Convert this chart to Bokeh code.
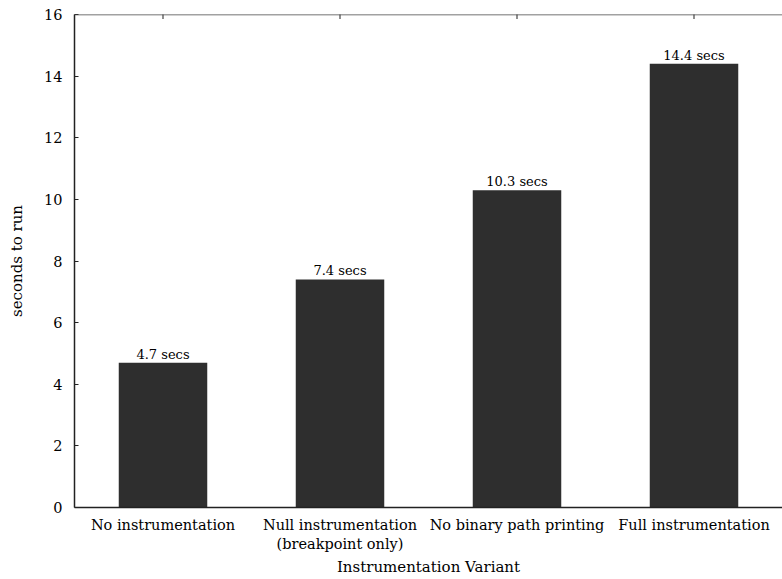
import math
from bokeh.plotting import figure
from bokeh.models import ColumnDataSource, FactorRange, Range1d, FixedTicker, Span
from bokeh.core.properties import value
from bokeh.embed import file_html
from bokeh.resources import INLINE

categories = ["No instrumentation", "Null instrumentation\n(breakpoint only)",
              "No binary path printing", "Full instrumentation"]
seconds = [4.7, 7.4, 10.3, 14.4]
bar_labels = ["4.7 secs", "7.4 secs", "10.3 secs", "14.4 secs"]
y_ticks = [0, 2, 4, 6, 8, 10, 12, 14, 16]
y_max = 16

FONT = "DejaVu Serif"

src = ColumnDataSource(dict(cat=categories, val=seconds, lab=bar_labels))
top_src = ColumnDataSource(dict(cat=categories, y=[y_max] * len(categories)))

p = figure(frame_width=708, frame_height=493, output_backend="svg", toolbar_location=None,
           x_range=FactorRange(factors=categories, start=0, end=3.98),
           y_range=Range1d(0, y_max),
           min_border_left=74, min_border_right=0, min_border_top=14, min_border_bottom=68)

p.vbar(x="cat", top="val", width=0.5, source=src, fill_color="#2e2e2e", line_color=None)
p.text(x="cat", y="val", text="lab", source=src, text_align="center", text_baseline="bottom",
       y_offset=-1, text_font=value(FONT), text_font_size="13px", text_color="black")

# top border with inward category ticks
p.add_layout(Span(location=y_max, dimension="width", line_color="#444444", line_width=1.5))
p.scatter(x="cat", y="y", source=top_src, marker="dash", angle=math.pi / 2, size=9,
          line_color="#444444", line_width=1.2)

p.outline_line_color = None
p.xgrid.visible = False
p.ygrid.visible = False
p.background_fill_color = "white"
p.border_fill_color = "white"

xa = p.xaxis[0]
xa.axis_label = "Instrumentation Variant"
xa.axis_label_text_font = FONT
xa.axis_label_text_font_style = "normal"
xa.axis_label_text_font_size = "15px"
xa.axis_label_text_color = "black"
xa.axis_label_standoff = 3
xa.major_label_text_font = FONT
xa.major_label_text_font_size = "14.5px"
xa.major_label_text_color = "black"
xa.major_label_standoff = 3
xa.major_tick_line_color = None
xa.axis_line_color = "#222222"
xa.axis_line_width = 1.5

ya = p.yaxis[0]
ya.ticker = FixedTicker(ticks=y_ticks)
ya.axis_label = "seconds to run"
ya.axis_label_text_font = FONT
ya.axis_label_text_font_style = "normal"
ya.axis_label_text_font_size = "15px"
ya.axis_label_text_color = "black"
ya.axis_label_standoff = 15
ya.major_label_text_font = FONT
ya.major_label_text_font_size = "14.5px"
ya.major_label_text_color = "black"
ya.major_label_standoff = 12
ya.major_tick_in = 4
ya.major_tick_out = 0
ya.major_tick_line_color = "#222222"
ya.minor_tick_line_color = None
ya.axis_line_color = "#222222"
ya.axis_line_width = 1.5

open("out.html", "w").write(file_html(p, INLINE))
